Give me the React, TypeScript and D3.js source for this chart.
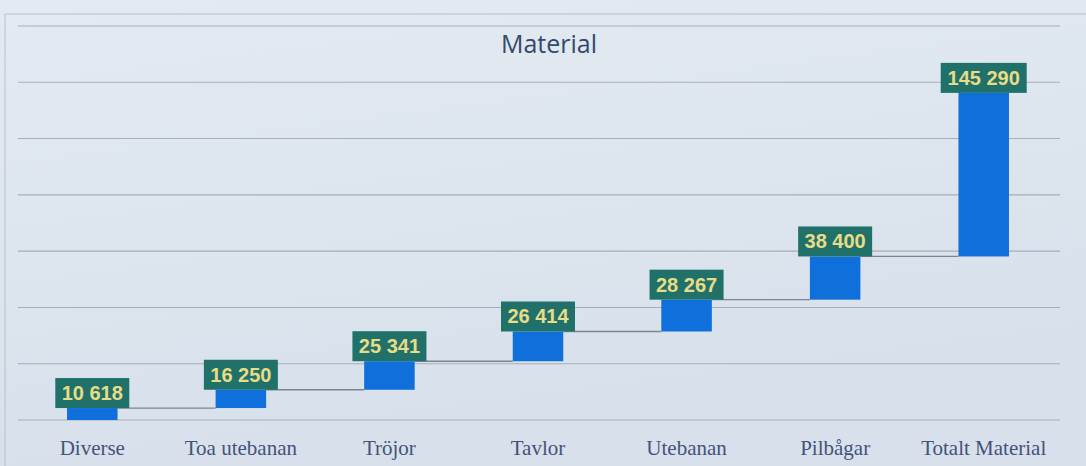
import React from "react";
import * as d3 from "d3";

const categories = ["Diverse", "Toa utebanan", "Tröjor", "Tavlor", "Utebanan", "Pilbågar", "Totalt Material"];
const values = [10618, 16250, 25341, 26414, 28267, 38400, 145290];
const gridTicks = [0, 50000, 100000, 150000, 200000, 250000, 300000, 350000];
const chartTitle = "Material";

const W = 1086;
const H = 466;

const fmt = d3.formatLocale({ decimal: ",", thousands: " ", grouping: [3], currency: ["", " kr"] }).format(",d");

export default function App() {
  const x = d3.scaleBand<string>().domain(categories).range([18, 1058]).paddingInner(0.66).paddingOuter(0.33);
  const y = d3.scaleLinear().domain([0, 350000]).range([420, 26]);

  // floating bases: each bar starts where the previous cumulative sum ended
  const bases: number[] = [];
  let acc = 0;
  values.forEach((v) => {
    bases.push(acc);
    acc += v;
  });

  const bw = x.bandwidth();

  return (
    <svg width={W} height={H} style={{ position: "absolute", left: 0, top: 0, display: "block" }}>
      <defs>
        <linearGradient id="bg" x1="0" y1="0" x2="0.3" y2="1">
          <stop offset="0" stopColor="#e3eaf1" />
          <stop offset="1" stopColor="#d7e0eb" />
        </linearGradient>
      </defs>
      <rect x={0} y={0} width={W} height={H} fill="url(#bg)" />
      <rect x={5} y={14} width={1090} height={470} fill="none" stroke="#b9c0c9" strokeWidth={1} />

      {gridTicks.map((t) => (
        <line key={t} x1={18} x2={1060} y1={y(t)} y2={y(t)} stroke="#a7aeb8" strokeWidth={1.1} />
      ))}

      <text x={549} y={53} textAnchor="middle" fontFamily="'Open Sans', sans-serif" fontSize={25} fill="#34496e">
        {chartTitle}
      </text>

      {values.map((v, i) => {
        if (i === values.length - 1) return null;
        const c = categories[i];
        const n = categories[i + 1];
        const yy = y(bases[i] + v);
        return (
          <line key={"c" + i} x1={(x(c) as number) + bw} x2={x(n) as number} y1={yy} y2={yy} stroke="#7d8590" strokeWidth={1.3} />
        );
      })}

      {values.map((v, i) => {
        const c = categories[i];
        const x0 = x(c) as number;
        const top = y(bases[i] + v);
        const bottom = y(bases[i]);
        return <rect key={"b" + i} x={x0} y={top} width={bw} height={bottom - top} fill="#0f6fdb" />;
      })}

      {values.map((v, i) => {
        const c = categories[i];
        const cx = (x(c) as number) + bw / 2;
        const top = y(bases[i] + v);
        const label = fmt(v);
        const boxW = label.length * 12 + 2;
        const boxH = 30;
        return (
          <g key={"l" + i}>
            <rect x={cx - boxW / 2} y={top - boxH} width={boxW} height={boxH} fill="#20716a" />
            <text
              x={cx}
              y={top - 8}
              textAnchor="middle"
              fontFamily="'Liberation Sans', Arial, sans-serif"
              fontWeight="bold"
              fontSize={20}
              fill="#e8dc86"
            >
              {label}
            </text>
          </g>
        );
      })}

      {categories.map((c) => (
        <text
          key={"x" + c}
          x={(x(c) as number) + bw / 2}
          y={455}
          textAnchor="middle"
          fontFamily="'Liberation Serif', 'Times New Roman', serif"
          fontSize={21}
          fill="#45537a"
        >
          {c}
        </text>
      ))}
    </svg>
  );
}
